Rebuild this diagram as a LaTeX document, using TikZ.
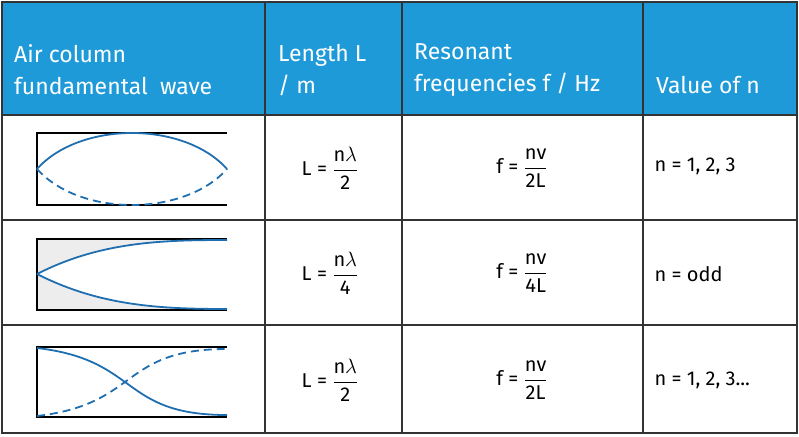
\documentclass[tikz,border=0pt]{standalone}
\usepackage{fontspec}
\setmainfont{Fira Sans}
\usepackage{amsmath}
\definecolor{hdr}{HTML}{1E9AD8}
\definecolor{wave}{HTML}{1F6FB0}
\tikzset{hd/.style={text=white,font=\fontsize{23}{32}\selectfont,align=left,anchor=west,inner sep=0pt},
 bd/.style={font=\fontsize{20}{24}\selectfont},
 tube/.style={black,line width=1.8pt},
 wv/.style={wave,line width=1.8pt},
 grid/.style={draw=black!80,line width=1.3pt}}
\begin{document}
\begin{tikzpicture}[x=1pt,y=-1pt]
\useasboundingbox (0,0) rectangle (799,436);
\fill[hdr] (2,2) rectangle (797,115);
\draw[grid] (2,2) rectangle (797,433);
\foreach \y in {115,220,325} \draw[grid] (2,\y) -- (797,\y);
\foreach \x in {265,402,643} \draw[grid] (\x,2) -- (\x,433);
\node[hd] (h1) at (14,70) {Air column\\fundamental\ \ wave};
\node[hd] (h2) at (278,70) {Length L\\/ m};
\node[hd] (h3) at (414,70) {Resonant\\frequencies f / Hz};
\node[hd] (h4) at (656,85) {Value of n};
% row 1
\draw[tube] (227,133) -- (37,133) -- (37,205) -- (227,205);
\draw[wv] (37,169) .. controls (80,121) and (184,121) .. (227,169);
\draw[wv,dashed,dash pattern=on 8pt off 5pt] (37,169) .. controls (80,217) and (184,217) .. (227,169);
% row 2
\fill[black!7] (37,239) rectangle (227,310);
\fill[white] (37,274) .. controls (100,242) and (160,240) .. (227,240) -- (227,309) .. controls (160,309) and (100,306) .. (37,274);
\draw[tube] (227,239) -- (37,239) -- (37,310) -- (227,310);
\draw[wv] (37,274) .. controls (100,242) and (160,240) .. (227,240);
\draw[wv] (37,274) .. controls (100,306) and (160,309) .. (227,309);
% row 3
\draw[tube] (227,347) -- (37,347) -- (37,417) -- (227,417);
\draw[wv] (37,348) .. controls (140,360) and (120,415) .. (227,415);
\draw[wv,dashed,dash pattern=on 8pt off 5pt] (37,416) .. controls (140,404) and (120,349) .. (227,349);
% formulas
\newcommand{\fr}[2]{$\dfrac{\text{#1}}{\text{#2}}$}
\node[bd] (l1) at (330,168) {L = \fr{n$\lambda$}{2}};
\node[bd] (l2) at (330,273) {L = \fr{n$\lambda$}{4}};
\node[bd] (l3) at (330,380) {L = \fr{n$\lambda$}{2}};
\node[bd] (f1) at (522,168) {f = \fr{nv}{2L}};
\node[bd] (f2) at (522,273) {f = \fr{nv}{4L}};
\node[bd] (f3) at (522,380) {f = \fr{nv}{2L}};
\node[bd,anchor=west] (n1) at (651,166) {n = 1, 2, 3};
\node[bd,anchor=west] (n2) at (651,274) {n = odd};
\node[bd,anchor=west] (n3) at (651,380) {n = 1, 2, 3...};
\end{tikzpicture}
\end{document}
